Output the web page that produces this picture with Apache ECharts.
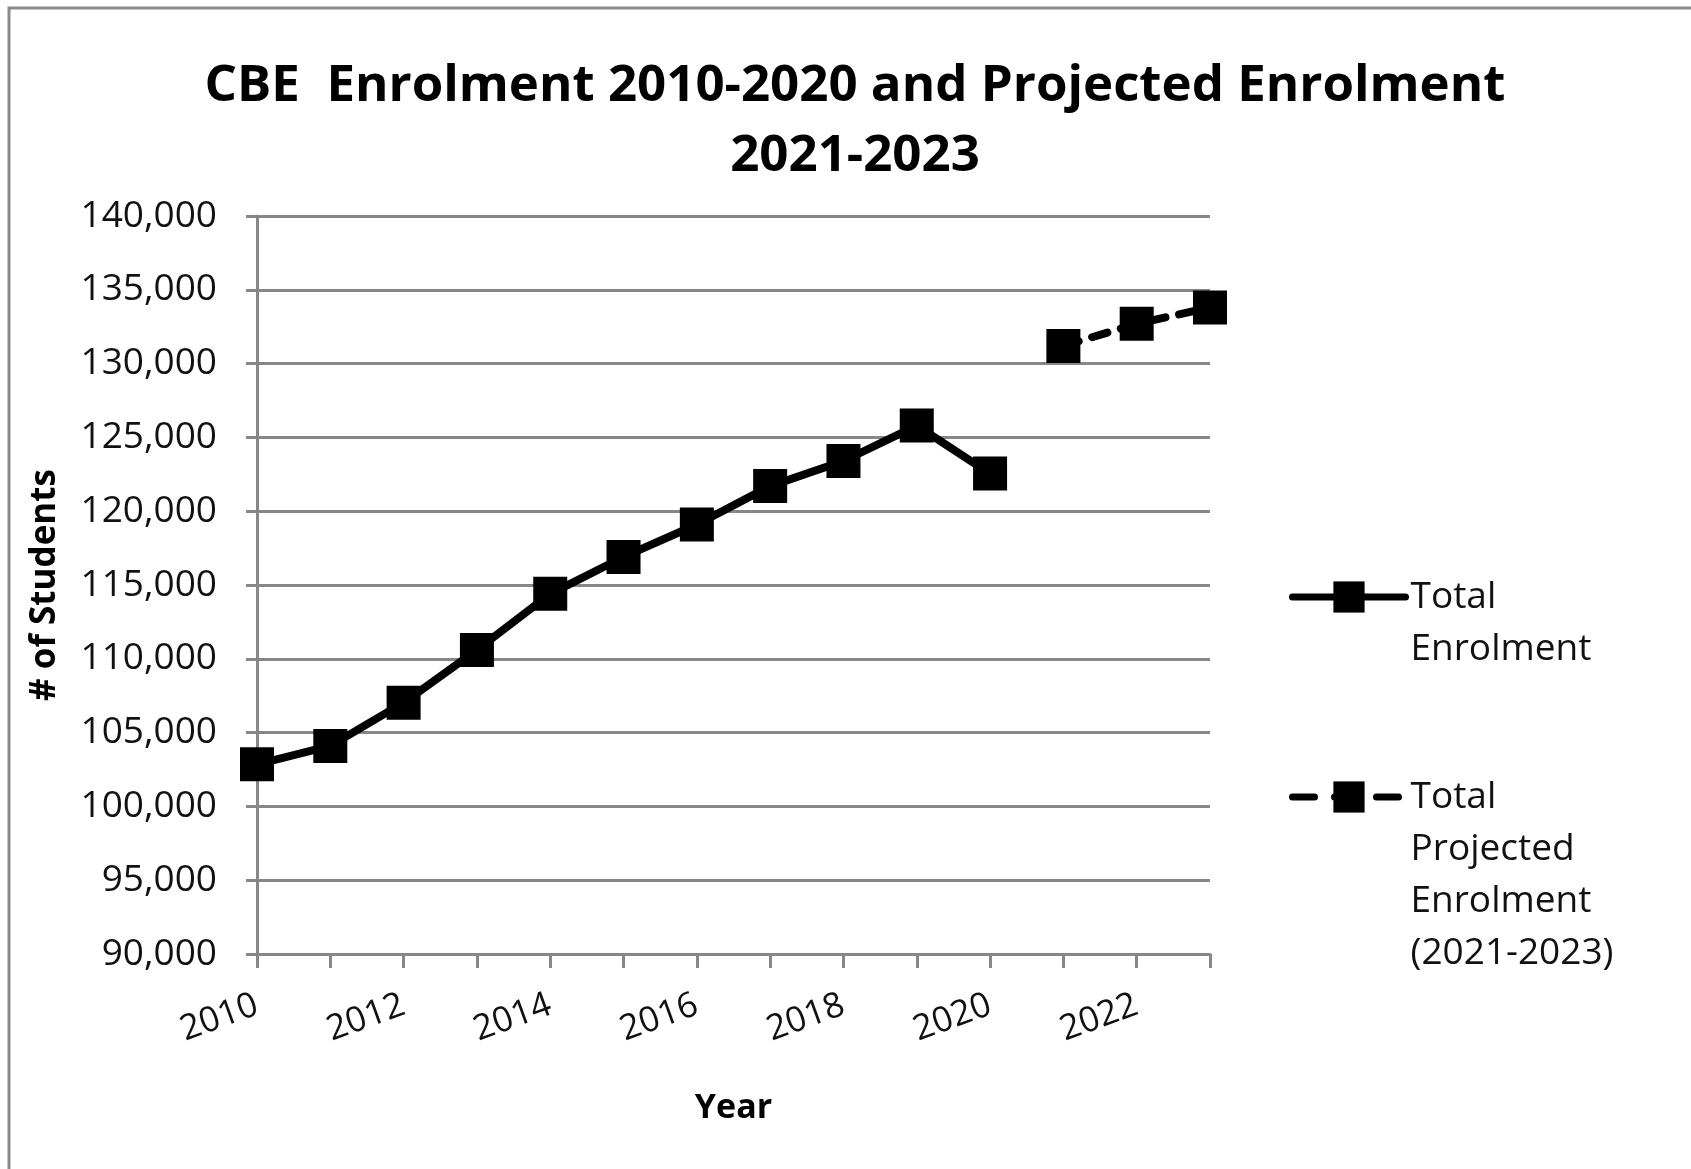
<!DOCTYPE html>
<html>
<head>
<meta charset="utf-8">
<script src="https://cdn.jsdelivr.net/npm/echarts@6/dist/echarts.min.js"></script>
<style>
html,body{margin:0;padding:0;background:#fff;}
#chart{width:1691px;height:1169px;}
</style>
</head>
<body>
<div id="chart"></div>
<script>
var years = ['2010','2011','2012','2013','2014','2015','2016','2017','2018','2019','2020','2021','2022','2023'];
var totalEnrolment = [102850, 104100, 107030, 110600, 114400, 116900, 119100, 121700, 123400, 125800, 122550, null, null, null];
var projectedEnrolment = [null, null, null, null, null, null, null, null, null, null, null, 131200, 132700, 133800];
var seriesNames = ['Total Enrolment', 'Total Projected Enrolment (2021-2023)'];
var legendLabels = ['Total\nEnrolment', 'Total\nProjected\nEnrolment\n(2021-2023)'];
var titleText = 'CBE  Enrolment 2010-2020 and Projected Enrolment\n2021-2023';

var FONT = 'Open Sans';
var GRAY = '#878787';
var LH = 52;

function legendFormatter(name) {
  var label = legendLabels[seriesNames.indexOf(name)];
  var n = label.split('\n').length;
  var pad = '';
  for (var i = 0; i < n - 1; i++) pad += '\n';
  return pad + label;
}

var chart = echarts.init(document.getElementById('chart'), null, {renderer: 'canvas'});
var option = {
  backgroundColor: '#ffffff',
  animation: false,
  graphic: [{
    type: 'rect', silent: true, z: -10,
    shape: {x: 9, y: 8, width: 2400, height: 2400},
    style: {fill: 'none', stroke: '#8a8a8a', lineWidth: 3}
  }],
  title: {
    text: titleText,
    left: 850, top: 46, textAlign: 'center',
    textStyle: {fontFamily: FONT, fontWeight: 'bold', fontSize: 51, lineHeight: 70, color: '#000'}
  },
  legend: [{
    data: [seriesNames[0]], orient: 'vertical', left: 1289, top: 597 - 1.5 * LH, padding: 0,
    itemWidth: 113, itemHeight: 39, itemGap: 0, formatter: legendFormatter, selectedMode: false,
    lineStyle: {width: 7, color: '#000', cap: 'round'},
    textStyle: {fontFamily: FONT, fontSize: 37, lineHeight: LH, color: '#111'}
  }, {
    data: [seriesNames[1]], orient: 'vertical', left: 1289, top: 797 - 3.5 * LH, padding: 0,
    itemWidth: 113, itemHeight: 39, itemGap: 0, formatter: legendFormatter, selectedMode: false,
    lineStyle: {width: 7, color: '#000', type: [22, 20], cap: 'round'},
    textStyle: {fontFamily: FONT, fontSize: 37, lineHeight: LH, color: '#111'}
  }],
  grid: {left: 257, right: 1691 - 1210, top: 216, bottom: 1169 - 954, containLabel: false},
  xAxis: {
    type: 'category', data: years, boundaryGap: false,
    name: 'Year', nameLocation: 'middle', nameGap: 137,
    nameTextStyle: {fontFamily: FONT, fontWeight: 'bold', fontSize: 34, color: '#000'},
    axisLine: {lineStyle: {color: GRAY, width: 3}},
    axisTick: {show: true, interval: 0, length: 14, lineStyle: {color: GRAY, width: 3}},
    axisLabel: {interval: 1, rotate: 20, margin: 50, fontFamily: FONT, fontSize: 35, color: '#111'},
    splitLine: {show: false}
  },
  yAxis: {
    type: 'value', min: 90000, max: 140000, interval: 5000,
    name: '# of Students', nameLocation: 'middle', nameRotate: 90, nameGap: 194,
    nameTextStyle: {fontFamily: FONT, fontWeight: 'bold', fontSize: 35, color: '#000'},
    axisLine: {show: true, lineStyle: {color: GRAY, width: 3}},
    axisTick: {show: true, length: 11, lineStyle: {color: GRAY, width: 3}},
    axisLabel: {margin: 40, fontFamily: FONT, fontSize: 37, color: '#111',
      formatter: function (v) { return v.toLocaleString('en-US'); }},
    splitLine: {show: true, lineStyle: {color: GRAY, width: 3}}
  },
  series: [{
    name: seriesNames[0], type: 'line', data: totalEnrolment,
    symbol: 'rect', symbolSize: 34, connectNulls: false,
    lineStyle: {color: '#000', width: 8, cap: 'round', join: 'round'},
    itemStyle: {color: '#000'}, z: 3
  }, {
    name: seriesNames[1], type: 'line', data: projectedEnrolment,
    symbol: 'rect', symbolSize: 34, connectNulls: false,
    lineStyle: {color: '#000', width: 8, type: [16, 14], cap: 'round'},
    itemStyle: {color: '#000'}, z: 3
  }]
};
chart.setOption(option);
</script>
</body>
</html>
